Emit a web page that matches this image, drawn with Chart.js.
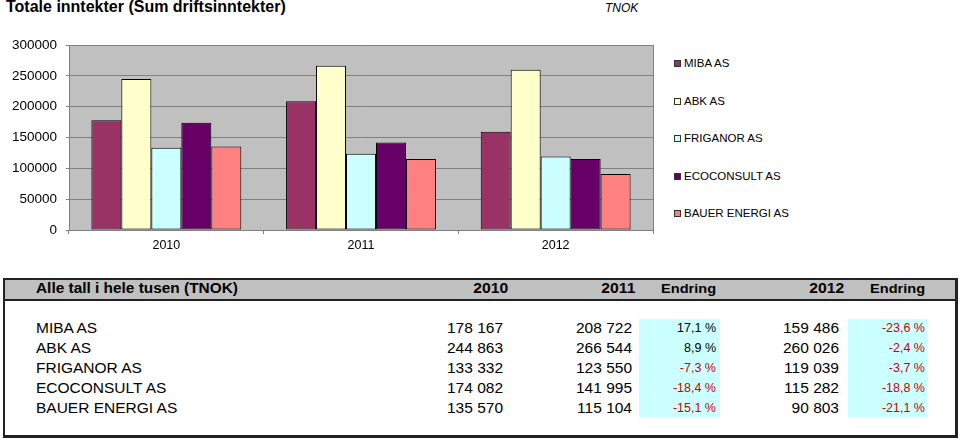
<!DOCTYPE html>
<html>
<head>
<meta charset="utf-8">
<script src="https://cdn.jsdelivr.net/npm/chart.js@4.4.1/dist/chart.umd.min.js"></script>
<style>
  body{margin:0;background:#fff;font-family:"Liberation Sans",Arial,sans-serif;width:960px;height:439px;overflow:hidden;position:relative;}
  .abs{position:absolute;white-space:nowrap;}
  #chart{position:absolute;left:0;top:0;}
  .leg{position:absolute;left:674px;font-size:11.5px;line-height:14px;}
  .leg i{display:inline-block;width:5px;height:5px;border:1px solid #333;margin-right:3px;vertical-align:0px;}
  #box{position:absolute;left:3px;top:278px;width:950px;height:155px;border:2px solid #222;border-bottom-width:3px;border-right-width:3px;}
  #head{position:absolute;left:0;top:0;width:950px;height:19px;background:#c0c0c0;border-bottom:2px solid #222;}
  .hd{font-weight:bold;font-size:14px;transform-origin:right center;}
  .num{font-size:15.5px;text-align:right;}
  .pct{font-size:12.5px;text-align:right;}
  .cy{position:absolute;background:#ccffff;}
</style>
</head>
<body>
<div class="abs" style="left:6px;top:-2px;font-size:16px;font-weight:bold;">Totale inntekter (Sum driftsinntekter)</div>
<div class="abs" style="left:605px;top:1px;font-size:12px;font-style:italic;">TNOK</div>
<canvas id="chart" width="660" height="262"></canvas>
<div id="legend"></div>
<div id="box"><div id="head"></div></div>
<div id="table"></div>
<script>
const categories = ["2010", "2011", "2012"];
const companies = ["MIBA AS", "ABK AS", "FRIGANOR AS", "ECOCONSULT AS", "BAUER ENERGI AS"];
const colors = ["#993366", "#ffffcc", "#ccffff", "#660066", "#ff8080"];
const v2010 = [178167, 244863, 133332, 174082, 135570];
const v2011 = [208722, 266544, 123550, 141995, 115104];
const v2012 = [159486, 260026, 119039, 115282, 90803];
const chg2011 = [17.1, 8.9, -7.3, -18.4, -15.1];
const chg2012 = [-23.6, -2.4, -3.7, -18.8, -21.1];
const yTicks = [0, 50000, 100000, 150000, 200000, 250000, 300000];

const el = (id)=>document.getElementById(id);
const font = "'Liberation Sans', Arial, sans-serif";

const plotBg = {
  id: "plotBg",
  beforeDraw(c){
    const a = c.chartArea, ctx = c.ctx;
    ctx.save();
    ctx.fillStyle = "#c0c0c0";
    ctx.fillRect(a.left, a.top, a.right - a.left, a.bottom - a.top);
    ctx.restore();
  },
  afterDatasetsDraw(c){
    const a = c.chartArea, ctx = c.ctx;
    ctx.save();
    ctx.strokeStyle = "#808080";
    ctx.lineWidth = 1;
    ctx.beginPath();
    ctx.moveTo(Math.round(a.right) + 0.5, a.top);
    ctx.lineTo(Math.round(a.right) + 0.5, a.bottom);
    ctx.stroke();
    ctx.restore();
  }
};

new Chart(el("chart"), {
  type: "bar",
  data: {
    labels: categories,
    datasets: companies.map((name, i)=>({
      label: name,
      data: [v2010[i], v2011[i], v2012[i]],
      backgroundColor: colors[i],
      borderColor: "#000",
      borderWidth: 1,
      borderSkipped: false
    }))
  },
  options: {
    responsive: false,
    animation: false,
    layout: { padding: { left: 0, right: 7, top: 45, bottom: 0 } },
    datasets: { bar: { categoryPercentage: 0.77, barPercentage: 1.0 } },
    plugins: { legend: { display: false }, tooltip: { enabled: false } },
    scales: {
      x: {
        grid: { offset: true, drawOnChartArea: false, drawTicks: true, tickLength: 4, color: "#808080" },
        border: { color: "#808080" },
        ticks: { color: "#000", font: { family: font, size: 12.5 }, padding: 4 },
        afterFit: (s)=>{ s.height = 32; }
      },
      y: {
        min: 0, max: 300000,
        afterBuildTicks: (s)=>{ s.ticks = yTicks.map(v=>({ value: v })); },
        grid: { color: "#808080", tickLength: 3 },
        border: { color: "#808080" },
        ticks: { color: "#000", font: { family: font, size: 13.5 }, padding: 9, callback: (v)=>String(v) },
        afterFit: (s)=>{ s.width = 69; }
      }
    }
  },
  plugins: [plotBg]
});

// legend
const legY = [63, 101, 138, 176, 213];
el("legend").innerHTML = companies.map((n, i)=>
  `<div class="leg" style="top:${legY[i] - 7}px"><i style="background:${colors[i]}"></i>${n}</div>`).join("");

// table
const fmt = (n)=>String(n).replace(/\B(?=(\d{3})+(?!\d))/g, " ");
const pct = (p)=>p.toFixed(1).replace(".", ",") + " %";
let html = "";
html += `<div class="cy" style="left:639px;top:319px;width:81px;height:98px"></div>`;
html += `<div class="cy" style="left:848px;top:319px;width:79px;height:98px"></div>`;
const cell = (txt, right, y, cls, extra="")=>
  `<div class="abs ${cls}" style="right:${960 - right}px;top:${y}px;${extra}">${txt}</div>`;
html += `<div class="abs hd" style="left:36px;top:280px;transform-origin:left center;transform:scaleX(1.1)">Alle tall i hele tusen (TNOK)</div>`;
html += cell("2010", 508, 280, "hd", "transform:scaleX(1.12)");
html += cell("2011", 635, 280, "hd", "transform:scaleX(1.12)");
html += cell("Endring", 716, 281, "hd", "font-size:13px;transform:scaleX(1.12)");
html += cell("2012", 844, 280, "hd", "transform:scaleX(1.12)");
html += cell("Endring", 925, 281, "hd", "font-size:13px;transform:scaleX(1.12)");
companies.forEach((n, i)=>{
  const y = 319 + i * 20;
  html += `<div class="abs num" style="left:36px;top:${y}px">${n}</div>`;
  html += cell(fmt(v2010[i]), 503, y, "num");
  html += cell(fmt(v2011[i]), 632, y, "num");
  html += cell(pct(chg2011[i]), 716, y + 2, "pct", `color:${chg2011[i] < 0 ? "#cc0000" : "#000"}`);
  html += cell(fmt(v2012[i]), 839, y, "num");
  html += cell(pct(chg2012[i]), 925, y + 2, "pct", `color:${chg2012[i] < 0 ? "#cc0000" : "#000"}`);
});
el("table").innerHTML = html;
</script>
</body>
</html>
